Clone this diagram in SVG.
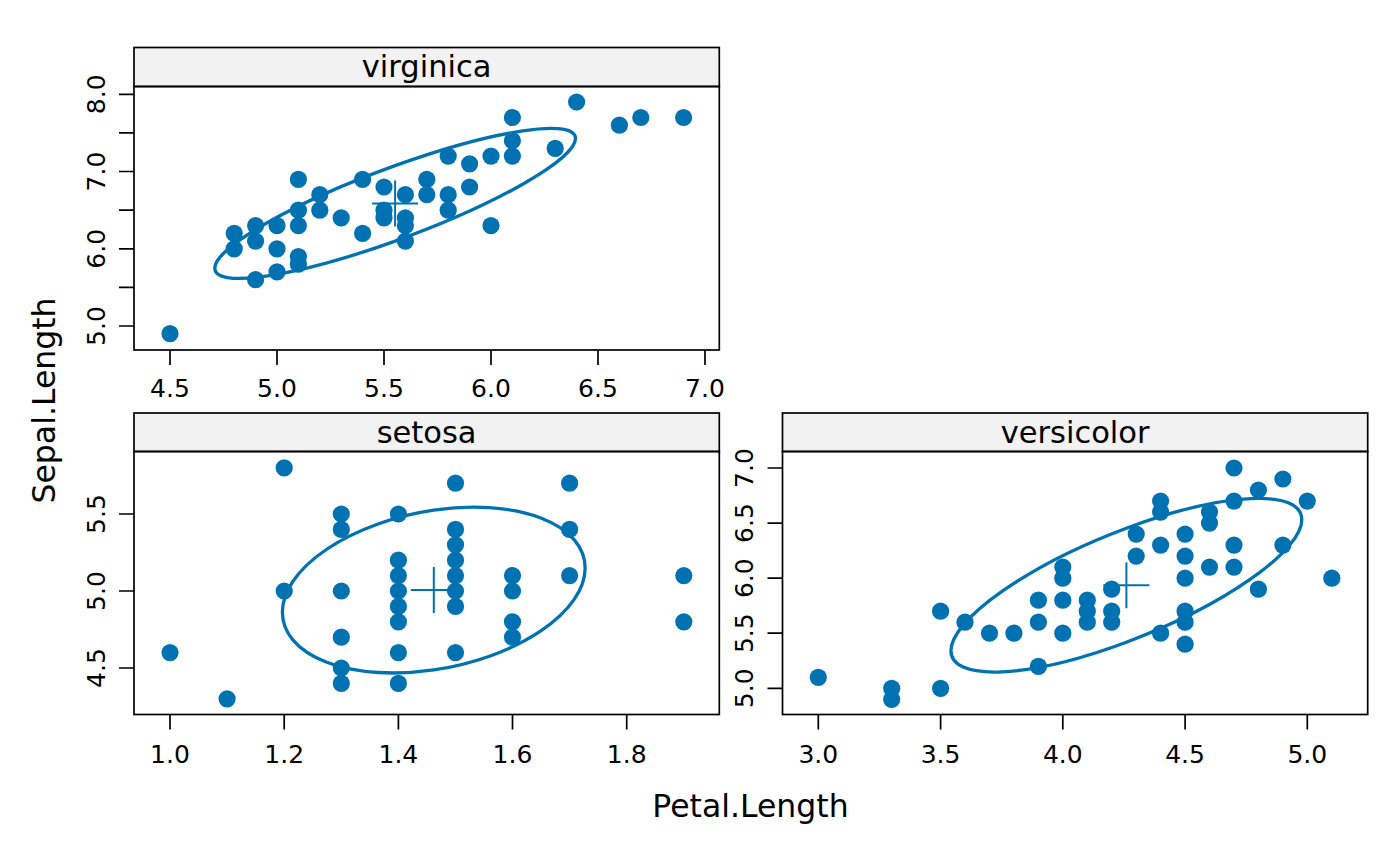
<svg xmlns="http://www.w3.org/2000/svg" width="1400" height="866" viewBox="0 0 1400 866">
<style>
.bg{fill:#fff}
.pt{fill:#0072B2}
.ell{fill:none;stroke:#0072B2;stroke-width:3.3;vector-effect:non-scaling-stroke}
.ctr{stroke:#0072B2;stroke-width:2;fill:none}
.frame{fill:none;stroke:#000;stroke-width:1.7}
.strip{fill:#F2F2F2;stroke:#000;stroke-width:1.7}
.tick{stroke:#000;stroke-width:1.7;fill:none}
text{font-family:"DejaVu Sans","Liberation Sans",sans-serif;fill:#000;text-anchor:middle}
.tl{font-size:25px}
.st{font-size:30.5px}
.ax{font-size:31.5px}
</style>
<rect class="bg" x="0" y="0" width="1400" height="866"/>

<g id="panel-virginica">
<rect class="strip" x="134" y="47.5" width="585.3" height="39"/>
<text class="st" x="426.6" y="76.7">virginica</text>
<rect class="frame" x="134" y="86.5" width="585.3" height="263.5"/>
<path class="tick" d="M170,350v15M277,350v15M384,350v15M491,350v15M598,350v15M705,350v15M119,326h15M119,287.4h15M119,248.8h15M119,210.2h15M119,171.5h15M119,132.9h15M119,94.3h15"/>
<g class="tl">
<text x="170" y="396.5">4.5</text><text x="277" y="396.5">5.0</text><text x="384" y="396.5">5.5</text><text x="491" y="396.5">6.0</text><text x="598" y="396.5">6.5</text><text x="705" y="396.5">7.0</text>
<text transform="translate(105,326) rotate(-90)">5.0</text>
<text transform="translate(105,248.8) rotate(-90)">6.0</text>
<text transform="translate(105,171.5) rotate(-90)">7.0</text>
<text transform="translate(105,94.3) rotate(-90)">8.0</text>
</g>
<g>
<circle class="pt" r="8.6" cx="491" cy="225.6"/><circle class="pt" r="8.6" cx="298.4" cy="264.2"/><circle class="pt" r="8.6" cx="469.6" cy="163.8"/><circle class="pt" r="8.6" cx="405.4" cy="225.6"/><circle class="pt" r="8.6" cx="448.2" cy="210.2"/><circle class="pt" r="8.6" cx="619.4" cy="125.2"/><circle class="pt" r="8.6" cx="170" cy="333.7"/><circle class="pt" r="8.6" cx="555.2" cy="148.4"/><circle class="pt" r="8.6" cx="448.2" cy="194.7"/><circle class="pt" r="8.6" cx="512.4" cy="156.1"/><circle class="pt" r="8.6" cx="298.4" cy="210.2"/><circle class="pt" r="8.6" cx="341.2" cy="217.9"/><circle class="pt" r="8.6" cx="384" cy="187"/><circle class="pt" r="8.6" cx="277" cy="271.9"/><circle class="pt" r="8.6" cx="384" cy="210.2"/><circle class="pt" r="8.6" cx="640.8" cy="117.5"/><circle class="pt" r="8.6" cx="683.6" cy="117.5"/><circle class="pt" r="8.6" cx="277" cy="248.8"/><circle class="pt" r="8.6" cx="426.8" cy="179.3"/><circle class="pt" r="8.6" cx="255.6" cy="279.7"/><circle class="pt" r="8.6" cx="255.6" cy="225.6"/><circle class="pt" r="8.6" cx="426.8" cy="194.7"/><circle class="pt" r="8.6" cx="491" cy="156.1"/><circle class="pt" r="8.6" cx="234.2" cy="233.3"/><circle class="pt" r="8.6" cx="255.6" cy="241.1"/><circle class="pt" r="8.6" cx="405.4" cy="217.9"/><circle class="pt" r="8.6" cx="448.2" cy="156.1"/><circle class="pt" r="8.6" cx="512.4" cy="140.7"/><circle class="pt" r="8.6" cx="576.6" cy="102"/><circle class="pt" r="8.6" cx="298.4" cy="225.6"/><circle class="pt" r="8.6" cx="405.4" cy="241.1"/><circle class="pt" r="8.6" cx="512.4" cy="117.5"/><circle class="pt" r="8.6" cx="384" cy="217.9"/><circle class="pt" r="8.6" cx="234.2" cy="248.8"/><circle class="pt" r="8.6" cx="362.6" cy="179.3"/><circle class="pt" r="8.6" cx="405.4" cy="194.7"/><circle class="pt" r="8.6" cx="298.4" cy="179.3"/><circle class="pt" r="8.6" cx="469.6" cy="187"/><circle class="pt" r="8.6" cx="319.8" cy="194.7"/><circle class="pt" r="8.6" cx="277" cy="225.6"/><circle class="pt" r="8.6" cx="319.8" cy="210.2"/><circle class="pt" r="8.6" cx="362.6" cy="233.3"/><circle class="pt" r="8.6" cx="298.4" cy="256.5"/>
</g>
<circle class="ell" r="1" transform="matrix(180.35,-64.81,0,-37.73,395.13,203.36)"/>
<path class="ctr" d="M372.1,203.4h46M395.1,180.4v46"/>
</g>

<g id="panel-setosa">
<rect class="strip" x="134" y="413" width="585.3" height="38.5"/>
<text class="st" x="426.6" y="442.8">setosa</text>
<rect class="frame" x="134" y="451.5" width="585.3" height="263"/>
<path class="tick" d="M170,714.5v15M284.2,714.5v15M398.4,714.5v15M512.5,714.5v15M626.7,714.5v15M119,668h15M119,591h15M119,514h15"/>
<g class="tl">
<text x="170" y="763">1.0</text><text x="284.2" y="763">1.2</text><text x="398.4" y="763">1.4</text><text x="512.5" y="763">1.6</text><text x="626.7" y="763">1.8</text>
<text transform="translate(105,668) rotate(-90)">4.5</text>
<text transform="translate(105,591) rotate(-90)">5.0</text>
<text transform="translate(105,514) rotate(-90)">5.5</text>
</g>
<g>
<circle class="pt" r="8.6" cx="170" cy="652.6"/><circle class="pt" r="8.6" cx="227.1" cy="698.8"/><circle class="pt" r="8.6" cx="284.2" cy="467.8"/><circle class="pt" r="8.6" cx="284.2" cy="591"/>
<circle class="pt" r="8.6" cx="341.3" cy="514"/><circle class="pt" r="8.6" cx="341.3" cy="529.4"/><circle class="pt" r="8.6" cx="341.3" cy="591"/><circle class="pt" r="8.6" cx="341.3" cy="637.2"/><circle class="pt" r="8.6" cx="341.3" cy="668"/><circle class="pt" r="8.6" cx="341.3" cy="683.4"/>
<circle class="pt" r="8.6" cx="398.4" cy="514"/><circle class="pt" r="8.6" cx="398.4" cy="560.2"/><circle class="pt" r="8.6" cx="398.4" cy="575.6"/><circle class="pt" r="8.6" cx="398.4" cy="591"/><circle class="pt" r="8.6" cx="398.4" cy="606.4"/><circle class="pt" r="8.6" cx="398.4" cy="621.8"/><circle class="pt" r="8.6" cx="398.4" cy="652.6"/><circle class="pt" r="8.6" cx="398.4" cy="683.4"/>
<circle class="pt" r="8.6" cx="455.5" cy="483.2"/><circle class="pt" r="8.6" cx="455.5" cy="529.4"/><circle class="pt" r="8.6" cx="455.5" cy="544.8"/><circle class="pt" r="8.6" cx="455.5" cy="560.2"/><circle class="pt" r="8.6" cx="455.5" cy="575.6"/><circle class="pt" r="8.6" cx="455.5" cy="591"/><circle class="pt" r="8.6" cx="455.5" cy="606.4"/><circle class="pt" r="8.6" cx="455.5" cy="652.6"/>
<circle class="pt" r="8.6" cx="512.5" cy="575.6"/><circle class="pt" r="8.6" cx="512.5" cy="591"/><circle class="pt" r="8.6" cx="512.5" cy="621.8"/><circle class="pt" r="8.6" cx="512.5" cy="637.2"/>
<circle class="pt" r="8.6" cx="569.6" cy="483.2"/><circle class="pt" r="8.6" cx="569.6" cy="529.4"/><circle class="pt" r="8.6" cx="569.6" cy="575.6"/>
<circle class="pt" r="8.6" cx="683.8" cy="575.6"/><circle class="pt" r="8.6" cx="683.8" cy="621.8"/>
</g>
<circle class="ell" r="1" transform="matrix(151.39,-22.147,0,-79.88,433.76,590.08)"/>
<path class="ctr" d="M410.8,590.1h46M433.8,567.1v46"/>
</g>

<g id="panel-versicolor">
<rect class="strip" x="782.5" y="413" width="585.2" height="38.5"/>
<text class="st" x="1075.1" y="442.8">versicolor</text>
<rect class="frame" x="782.5" y="451.5" width="585.2" height="263"/>
<path class="tick" d="M818.3,714.5v15M940.6,714.5v15M1062.8,714.5v15M1185.1,714.5v15M1307.3,714.5v15M767.5,688.3h15M767.5,633.2h15M767.5,578.2h15M767.5,523.1h15M767.5,468h15"/>
<g class="tl">
<text x="818.3" y="763">3.0</text><text x="940.6" y="763">3.5</text><text x="1062.8" y="763">4.0</text><text x="1185.1" y="763">4.5</text><text x="1307.3" y="763">5.0</text>
<text transform="translate(753,688.3) rotate(-90)">5.0</text>
<text transform="translate(753,633.2) rotate(-90)">5.5</text>
<text transform="translate(753,578.2) rotate(-90)">6.0</text>
<text transform="translate(753,523.1) rotate(-90)">6.5</text>
<text transform="translate(753,468) rotate(-90)">7.0</text>
</g>
<g>
<circle class="pt" r="8.6" cx="818.3" cy="677.3"/>
<circle class="pt" r="8.6" cx="891.7" cy="699.3"/><circle class="pt" r="8.6" cx="891.7" cy="688.3"/>
<circle class="pt" r="8.6" cx="940.6" cy="688.3"/><circle class="pt" r="8.6" cx="940.6" cy="611.2"/>
<circle class="pt" r="8.6" cx="965" cy="622.2"/>
<circle class="pt" r="8.6" cx="989.5" cy="633.2"/>
<circle class="pt" r="8.6" cx="1013.9" cy="633.2"/>
<circle class="pt" r="8.6" cx="1038.4" cy="666.3"/><circle class="pt" r="8.6" cx="1038.4" cy="622.2"/><circle class="pt" r="8.6" cx="1038.4" cy="600.2"/>
<circle class="pt" r="8.6" cx="1062.8" cy="633.2"/><circle class="pt" r="8.6" cx="1062.8" cy="600.2"/><circle class="pt" r="8.6" cx="1062.8" cy="578.2"/><circle class="pt" r="8.6" cx="1062.8" cy="567.1"/>
<circle class="pt" r="8.6" cx="1087.3" cy="622.2"/><circle class="pt" r="8.6" cx="1087.3" cy="611.2"/><circle class="pt" r="8.6" cx="1087.3" cy="600.2"/>
<circle class="pt" r="8.6" cx="1111.7" cy="622.2"/><circle class="pt" r="8.6" cx="1111.7" cy="611.2"/><circle class="pt" r="8.6" cx="1111.7" cy="589.2"/>
<circle class="pt" r="8.6" cx="1136.2" cy="556.1"/><circle class="pt" r="8.6" cx="1136.2" cy="534.1"/>
<circle class="pt" r="8.6" cx="1160.6" cy="633.2"/><circle class="pt" r="8.6" cx="1160.6" cy="545.1"/><circle class="pt" r="8.6" cx="1160.6" cy="512.1"/><circle class="pt" r="8.6" cx="1160.6" cy="501.1"/>
<circle class="pt" r="8.6" cx="1185.1" cy="644.2"/><circle class="pt" r="8.6" cx="1185.1" cy="622.2"/><circle class="pt" r="8.6" cx="1185.1" cy="611.2"/><circle class="pt" r="8.6" cx="1185.1" cy="578.2"/><circle class="pt" r="8.6" cx="1185.1" cy="556.1"/><circle class="pt" r="8.6" cx="1185.1" cy="534.1"/>
<circle class="pt" r="8.6" cx="1209.5" cy="567.1"/><circle class="pt" r="8.6" cx="1209.5" cy="523.1"/><circle class="pt" r="8.6" cx="1209.5" cy="512.1"/>
<circle class="pt" r="8.6" cx="1234" cy="567.1"/><circle class="pt" r="8.6" cx="1234" cy="545.1"/><circle class="pt" r="8.6" cx="1234" cy="501.1"/><circle class="pt" r="8.6" cx="1234" cy="468"/>
<circle class="pt" r="8.6" cx="1258.4" cy="589.2"/><circle class="pt" r="8.6" cx="1258.4" cy="490"/>
<circle class="pt" r="8.6" cx="1282.9" cy="545.1"/><circle class="pt" r="8.6" cx="1282.9" cy="479"/>
<circle class="pt" r="8.6" cx="1307.3" cy="501.1"/>
<circle class="pt" r="8.6" cx="1331.8" cy="578.2"/>
</g>
<circle class="ell" r="1" transform="matrix(175.44,-65.47,0,-57.02,1126.37,585.2)"/>
<path class="ctr" d="M1103.4,585.2h46M1126.4,562.2v46"/>
</g>

<g id="axis-titles">
<text class="ax" x="750.5" y="816.7">Petal.Length</text>
<text class="ax" transform="translate(55,400.5) rotate(-90)">Sepal.Length</text>
</g>
<g id="connectors"/>
</svg>
